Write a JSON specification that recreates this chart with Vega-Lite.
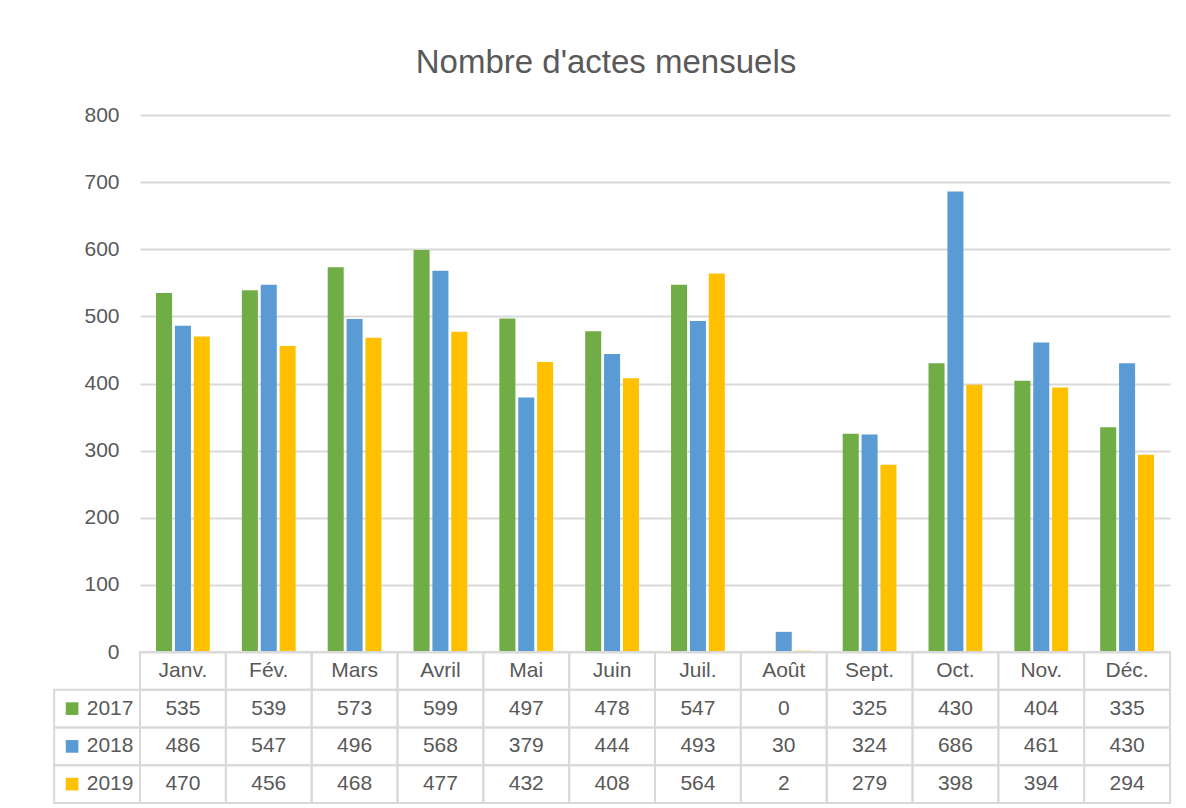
{
  "$schema": "https://vega.github.io/schema/vega-lite/v6.json",
  "width": 1030,
  "height": 688,
  "autosize": "none",
  "padding": {"left": 140, "top": 115, "right": 16, "bottom": 5},
  "background": "white",
  "title": {"text": "Nombre d'actes mensuels", "fontSize": 33, "font": "Liberation Sans", "fontWeight": "normal", "color": "#595959", "anchor": "middle", "frame": "group", "dx": -49, "offset": 24},
  "config": {"view": {"stroke": null}, "font": "Liberation Sans"},
  "data": {"values": [
    {"month": "Janv.", "year": "2017", "value": 535},
    {"month": "Fév.", "year": "2017", "value": 539},
    {"month": "Mars", "year": "2017", "value": 573},
    {"month": "Avril", "year": "2017", "value": 599},
    {"month": "Mai", "year": "2017", "value": 497},
    {"month": "Juin", "year": "2017", "value": 478},
    {"month": "Juil.", "year": "2017", "value": 547},
    {"month": "Août", "year": "2017", "value": 0},
    {"month": "Sept.", "year": "2017", "value": 325},
    {"month": "Oct.", "year": "2017", "value": 430},
    {"month": "Nov.", "year": "2017", "value": 404},
    {"month": "Déc.", "year": "2017", "value": 335},
    {"month": "Janv.", "year": "2018", "value": 486},
    {"month": "Fév.", "year": "2018", "value": 547},
    {"month": "Mars", "year": "2018", "value": 496},
    {"month": "Avril", "year": "2018", "value": 568},
    {"month": "Mai", "year": "2018", "value": 379},
    {"month": "Juin", "year": "2018", "value": 444},
    {"month": "Juil.", "year": "2018", "value": 493},
    {"month": "Août", "year": "2018", "value": 30},
    {"month": "Sept.", "year": "2018", "value": 324},
    {"month": "Oct.", "year": "2018", "value": 686},
    {"month": "Nov.", "year": "2018", "value": 461},
    {"month": "Déc.", "year": "2018", "value": 430},
    {"month": "Janv.", "year": "2019", "value": 470},
    {"month": "Fév.", "year": "2019", "value": 456},
    {"month": "Mars", "year": "2019", "value": 468},
    {"month": "Avril", "year": "2019", "value": 477},
    {"month": "Mai", "year": "2019", "value": 432},
    {"month": "Juin", "year": "2019", "value": 408},
    {"month": "Juil.", "year": "2019", "value": 564},
    {"month": "Août", "year": "2019", "value": 2},
    {"month": "Sept.", "year": "2019", "value": 279},
    {"month": "Oct.", "year": "2019", "value": 398},
    {"month": "Nov.", "year": "2019", "value": 394},
    {"month": "Déc.", "year": "2019", "value": 294}
  ]},
  "resolve": {"scale": {"x": "independent", "y": "independent"}},
  "layer": [
    {
      "mark": {"type": "bar"},
      "encoding": {
        "x": {"field": "month", "type": "nominal", "scale": {"domain": ["Janv.", "Fév.", "Mars", "Avril", "Mai", "Juin", "Juil.", "Août", "Sept.", "Oct.", "Nov.", "Déc."], "paddingInner": 0, "paddingOuter": 0}, "axis": null},
        "xOffset": {"field": "year", "type": "nominal", "scale": {"paddingInner": 0.15, "paddingOuter": 0.85}},
        "y": {"field": "value", "type": "quantitative", "scale": {"domain": [0, 800], "range": [537, 0], "nice": false}, "axis": {"values": [0, 100, 200, 300, 400, 500, 600, 700, 800], "title": null, "domain": false, "ticks": false, "labelFontSize": 21, "labelColor": "#595959", "labelPadding": 21, "gridColor": "#d9d9d9", "gridWidth": 2}},
        "color": {"field": "year", "type": "nominal", "scale": {"domain": ["2017", "2018", "2019"], "range": ["#70ad47", "#5b9bd5", "#ffc000"]}, "legend": null}
      }
    },
    {
      "layer": [
        {
          "mark": {"type": "rect", "fill": "transparent", "stroke": "#d9d9d9", "strokeWidth": 2},
          "encoding": {
            "x": {"field": "month", "type": "nominal", "scale": {"domain": ["legend", "Janv.", "Fév.", "Mars", "Avril", "Mai", "Juin", "Juil.", "Août", "Sept.", "Oct.", "Nov.", "Déc."], "range": [-85.83, 1030], "paddingInner": 0, "paddingOuter": 0}, "axis": null},
            "y": {"field": "year", "type": "nominal", "scale": {"domain": ["h", "2017", "2018", "2019"], "range": [537, 688], "paddingInner": 0, "paddingOuter": 0}, "axis": null}
          }
        },
        {
          "transform": [{"filter": "datum.year == '2017'"}],
          "mark": {"type": "rect", "fill": "transparent", "stroke": "#d9d9d9", "strokeWidth": 2},
          "encoding": {
            "x": {"field": "month", "type": "nominal"},
            "y": {"datum": "h", "type": "nominal"}
          }
        },
        {
          "transform": [{"filter": "datum.month == 'Janv.'"}],
          "mark": {"type": "rect", "fill": "transparent", "stroke": "#d9d9d9", "strokeWidth": 2},
          "encoding": {
            "x": {"datum": "legend", "type": "nominal"},
            "y": {"field": "year", "type": "nominal"}
          }
        },
        {
          "mark": {"type": "text", "fontSize": 21, "color": "#595959", "baseline": "middle", "align": "center"},
          "encoding": {
            "x": {"field": "month", "type": "nominal"},
            "y": {"field": "year", "type": "nominal"},
            "text": {"field": "value", "type": "quantitative"}
          }
        },
        {
          "transform": [{"filter": "datum.year == '2017'"}],
          "mark": {"type": "text", "fontSize": 21, "color": "#595959", "baseline": "middle", "align": "center"},
          "encoding": {
            "x": {"field": "month", "type": "nominal"},
            "y": {"datum": "h", "type": "nominal"},
            "text": {"field": "month", "type": "nominal"}
          }
        },
        {
          "transform": [{"filter": "datum.month == 'Janv.'"}],
          "mark": {"type": "text", "fontSize": 21, "color": "#595959", "baseline": "middle", "align": "center", "dx": 13},
          "encoding": {
            "x": {"datum": "legend", "type": "nominal"},
            "y": {"field": "year", "type": "nominal"},
            "text": {"field": "year", "type": "nominal"}
          }
        },
        {
          "transform": [{"filter": "datum.month == 'Janv.'"}],
          "mark": {"type": "square", "filled": true, "opacity": 1, "size": 160, "xOffset": -25},
          "encoding": {
            "x": {"datum": "legend", "type": "nominal"},
            "y": {"field": "year", "type": "nominal"},
            "color": {"field": "year", "type": "nominal", "legend": null}
          }
        }
      ]
    }
  ]
}
